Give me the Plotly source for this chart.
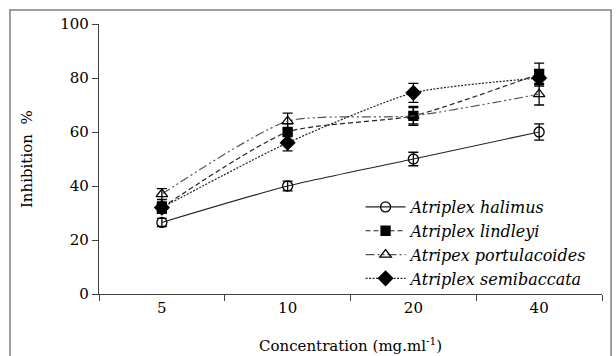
import plotly.graph_objects as go

categories = ["5", "10", "20", "40"]
series_names = ["Atriplex halimus", "Atriplex lindleyi", "Atripex portulacoides", "Atriplex semibaccata"]
halimus = [26.5, 40, 50, 60]
halimus_err = [1.5, 1.8, 2.5, 3]
lindleyi = [32, 60, 66, 81.5]
lindleyi_err = [2, 3, 3.5, 4]
portulacoides = [37, 64, 66, 74]
portulacoides_err = [2, 3, 3, 4]
semibaccata = [32, 56, 74.5, 80]
semibaccata_err = [2, 3, 3.5, 3]
y_ticks = [0, 20, 40, 60, 80, 100]

values = [halimus, lindleyi, portulacoides, semibaccata]
errors = [halimus_err, lindleyi_err, portulacoides_err, semibaccata_err]
symbols = ["circle-open", "square", "triangle-up-open", "diamond"]
sizes = [10, 9, 10, 11]
dashes = ["solid", "5px,3px", "9px,3px,2px,3px,2px,3px", "2px,1.5px"]
line_colors = ["#222222", "#222222", "#555555", "#222222"]

fig = go.Figure()
for name, v, e, sym, sz, d, lc in zip(series_names, values, errors, symbols, sizes, dashes, line_colors):
    fig.add_trace(go.Scatter(
        x=categories, y=v, name=name, mode="lines+markers",
        line=dict(color=lc, width=1.2, dash=d, shape="spline", smoothing=0.6),
        marker=dict(symbol=sym, size=sz, color="black", line=dict(color="black", width=1.3)),
        error_y=dict(type="data", array=e, visible=True, color="black", thickness=1.3, width=5),
    ))

ff = "DejaVu Serif"
fig.update_layout(
    width=616, height=356,
    margin=dict(l=99, r=14, t=24, b=62),
    paper_bgcolor="white", plot_bgcolor="white",
    font=dict(family=ff, size=15, color="black"),
    showlegend=True,
    legend=dict(x=0.52, y=0.385, xanchor="left", yanchor="top",
                bgcolor="rgba(0,0,0,0)", font=dict(size=16, family=ff, style="italic"),
                tracegroupgap=0, itemwidth=40),
    xaxis=dict(type="category", range=[-0.5, 3.5], showline=True, linecolor="#404040", linewidth=1.3,
               ticks="outside", tickson="boundaries", ticklen=6, tickcolor="#404040",
               showgrid=False, zeroline=False, tickfont=dict(size=15, family=ff)),
    yaxis=dict(range=[0, 100], tickvals=y_ticks, showline=True, linecolor="#404040", linewidth=1.3,
               ticks="outside", ticklen=6, tickcolor="#404040", showgrid=False, zeroline=False,
               tickfont=dict(size=15, family=ff)),
    annotations=[
        dict(text="Concentration (mg.ml<sup>-1</sup>)", x=0.5, y=-0.19, xref="paper", yref="paper",
             xanchor="center", yanchor="middle", showarrow=False, font=dict(size=15, family=ff)),
        dict(text="Inhibition  %", x=-0.143, y=0.5, xref="paper", yref="paper", textangle=-90,
             xanchor="center", yanchor="middle", showarrow=False, font=dict(size=15, family=ff)),
    ],
    shapes=[dict(type="rect", xref="paper", yref="paper", x0=-0.177, x1=1.018, y0=-0.3, y1=1.052,
                 line=dict(color="#808080", width=1.5), fillcolor="rgba(0,0,0,0)", layer="below")],
)
fig.write_html("out.html", config={"displayModeBar": False},
               post_script="document.body.style.margin='0';document.body.style.overflow='hidden';")
